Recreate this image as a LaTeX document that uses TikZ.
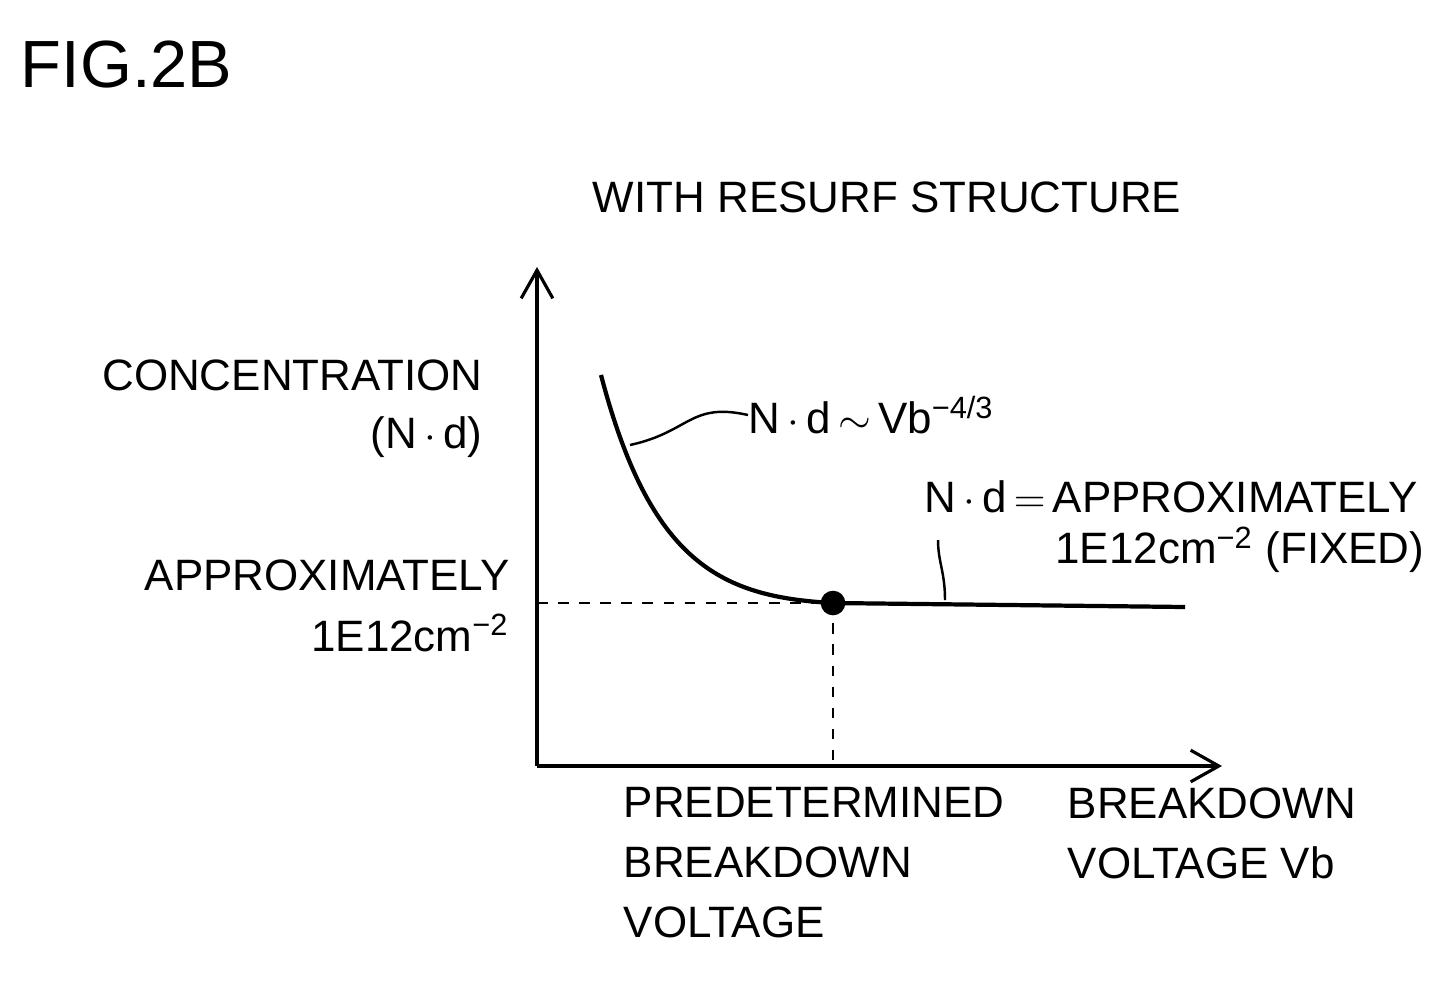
\documentclass[tikz,border=0pt]{standalone}
\usepackage{fontspec}
\setmainfont{Liberation Sans}
\usetikzlibrary{positioning,arrows.meta}
\begin{document}
\begin{tikzpicture}[x=1cm,y=1cm,
		label_style/.style={font=\fontsize{12.5}{17}\selectfont,inner sep=0pt},
		axis_style/.style={draw=black,line width=0.9pt,-{Straight Barb[length=8pt,width=9pt]}},
		dash_style/.style={draw=black,dashed,line width=0.7pt},
		lead_style/.style={draw=black,line width=0.7pt}]
		\useasboundingbox (0,0) rectangle (14.56,9.92);
		
		\node[font=\fontsize{19}{22}\selectfont,anchor=west,inner sep=0pt] (fig) at (0.2,9.27) {FIG.2B};
		\node[label_style] (title) at (8.87,7.95) {WITH RESURF STRUCTURE};
		
		\coordinate (o) at (5.37,2.26);
		\coordinate (ytop) at (5.37,7.25);
		\coordinate (xend) at (12.22,2.26);
		\draw[axis_style] (o) -- (ytop);
		\draw[axis_style] (o) -- (xend);
		
		\coordinate (c0) at (6.01,6.17);
		\node[circle,fill=black,inner sep=0pt,minimum size=7pt] (pt) at (8.33,3.89) {};
		\coordinate (c1) at (11.85,3.85);
		\coordinate (ypt) at (5.37,3.89);
		\coordinate (xpt) at (8.33,2.26);
		\draw[line width=1.2pt] (c0) .. controls (6.5,4.3) and (7.2,3.95) .. (pt.center) -- (c1);
		\draw[dash_style] (ypt) -- (pt.center) -- (xpt);
		
		\node[label_style,anchor=east] (conc) at (4.83,6.17) {CONCENTRATION};
		\node[label_style,anchor=east] (nd) at (4.83,5.55) {(N\,$\cdot$\,d)};
		\node[label_style,anchor=east] (appr) at (5.10,4.17) {APPROXIMATELY};
		\node[label_style,anchor=east] (val) at (5.10,3.59) {1E12cm\textsuperscript{−2}};
		
		\node[label_style,anchor=west] (law) at (7.48,5.77) {N\,$\cdot$\,d$\,\sim\,$Vb\textsuperscript{−4/3}};
		\coordinate (l0) at (6.30,5.47);
		\draw[lead_style] (l0) .. controls (6.9,5.6) and (6.9,5.9) .. (law.west);
		
		\node[label_style,anchor=east] (fix1) at (14.18,4.95) {N\,$\cdot$\,d$\,=\,$APPROXIMATELY};
		\node[label_style,anchor=east] (fix2) at (14.25,4.42) {1E12cm\textsuperscript{−2} (FIXED)};
		\coordinate (f0) at (9.45,3.92);
		\coordinate (f1) at (9.38,4.52);
		\draw[lead_style] (f0) .. controls (9.45,4.2) and (9.38,4.3) .. (f1);
		
		\node[label_style,anchor=north west,align=left] (pbv) at (6.23,2.05) {PREDETERMINED\\BREAKDOWN\\VOLTAGE};
		\node[label_style,anchor=north west,align=left] (bv) at (10.67,2.05) {BREAKDOWN\\VOLTAGE Vb};
\end{tikzpicture}
\end{document}
